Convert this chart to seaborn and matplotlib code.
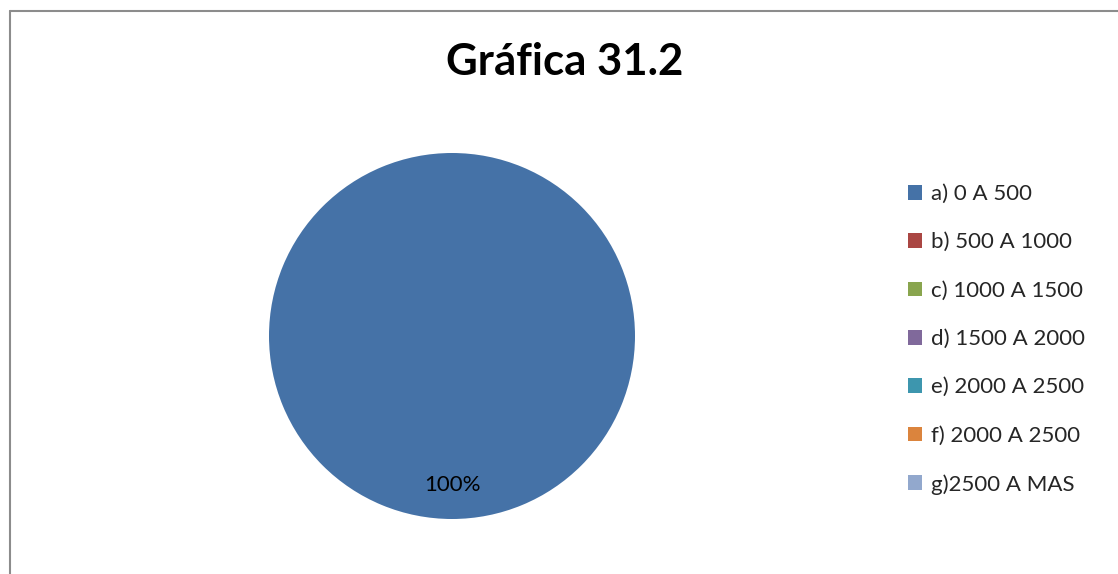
import matplotlib
matplotlib.use("Agg")
import matplotlib.pyplot as plt
from matplotlib.lines import Line2D
import seaborn as sns

# Income ranges and number of responses in each
categories = ["a) 0 A 500", "b) 500 A 1000", "c) 1000 A 1500", "d) 1500 A 2000",
              "e) 2000 A 2500", "f) 2000 A 2500", "g)2500 A MAS"]
values = [1, 0, 0, 0, 0, 0, 0]
title = "Gráfica 31.2"

palette = ["#4572A7", "#AA4643", "#89A54E", "#80699B", "#3D96AE", "#DB843D", "#92A8CD"]

sns.set_theme(style="white")
plt.rcParams["font.family"] = ["Lato", "DejaVu Sans"]

W, H = 1118, 574
fig = plt.figure(figsize=(W / 100, H / 100), dpi=100)
fig.patch.set_facecolor("white")

# Pie area: centre (452, 336) px, radius 183 px
cx, cy, r = 452, 336, 183
ax = fig.add_axes([(cx - r) / W, (H - cy - r) / H, 2 * r / W, 2 * r / H])


def pct_label(p):
    return f"{p:.0f}%" if p > 0 else ""


wedges, _, autotexts = ax.pie(
    values, colors=palette, startangle=90, counterclock=False,
    autopct=pct_label, pctdistance=0.815,
    wedgeprops=dict(linewidth=0), textprops=dict(fontsize=16, color="black"),
)
ax.set_xlim(-1, 1)
ax.set_ylim(-1, 1)
ax.set_aspect("equal")
ax.axis("off")

fig.text(565 / W, 1 - 62 / H, title, ha="center", va="center",
         fontsize=31.5, fontweight="bold", color="black")

leg = fig.legend(
    wedges, categories, loc="upper left",
    bbox_to_anchor=(908 / W, 1 - 184 / H), frameon=False,
    fontsize=16, handlelength=0.64, handleheight=0.64,
    handletextpad=0.38, labelspacing=1.275, borderpad=0, borderaxespad=0,
)

# Chart area border (top and left edges visible)
border = dict(color="#8c8c8c", linewidth=1.5, transform=fig.transFigure)
fig.add_artist(Line2D([9.5 / W, 1.0], [1 - 11 / H, 1 - 11 / H], **border))
fig.add_artist(Line2D([9.5 / W, 9.5 / W], [0.0, 1 - 11 / H], **border))

fig.savefig("out.png", dpi=100, facecolor="white")
